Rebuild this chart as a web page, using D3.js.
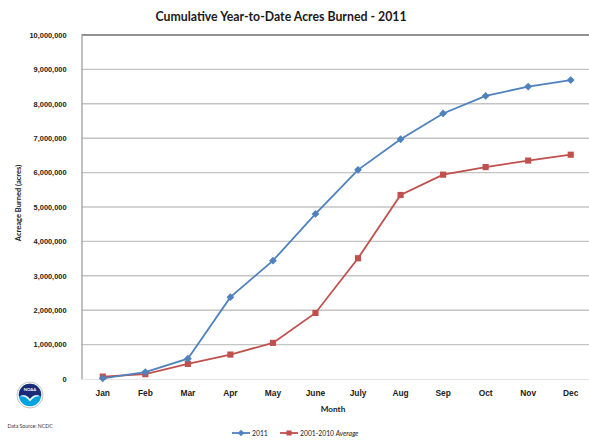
<!DOCTYPE html>
<html>
<head>
<meta charset="utf-8">
<script src="https://cdn.jsdelivr.net/npm/d3@7"></script>
<style>
  html, body { margin: 0; padding: 0; background: #fff; }
  svg { display: block; font-family: Lato, "Open Sans", sans-serif; }
</style>
</head>
<body>
<svg id="chart" width="589" height="440"></svg>
<script>
// Cumulative acres burned by month
const months = ["Jan", "Feb", "Mar", "Apr", "May", "June", "July", "Aug", "Sep", "Oct", "Nov", "Dec"];
const acres2011 = [20000, 200000, 590000, 2380000, 3440000, 4800000, 6080000, 6970000, 7720000, 8230000, 8500000, 8690000];
const acresAvg = [70000, 140000, 440000, 710000, 1050000, 1920000, 3510000, 5350000, 5940000, 6160000, 6350000, 6520000];
const yTicks = [0, 1000000, 2000000, 3000000, 4000000, 5000000, 6000000, 7000000, 8000000, 9000000, 10000000];

const svg = d3.select("#chart");
const m = { left: 81.5, right: 592, top: 35, bottom: 379 };

const x = d3.scaleBand().domain(months).range([m.left, m.right]);
const y = d3.scaleLinear().domain([0, 10000000]).range([m.bottom, m.top]);
const cx = d => x(d) + x.bandwidth() / 2;

// gridlines
svg.append("g")
  .selectAll("line")
  .data(yTicks.filter(t => t > 0))
  .join("line")
  .attr("x1", m.left).attr("x2", m.right)
  .attr("y1", d => y(d)).attr("y2", d => y(d))
  .attr("stroke", d => d === 10000000 ? "#6e6e6e" : "#c4c4c4")
  .attr("stroke-width", d => d === 10000000 ? 1.6 : 1.4);

// y axis
const yAxis = svg.append("g")
  .attr("transform", `translate(${m.left},0)`)
  .call(d3.axisLeft(y).tickValues(yTicks).tickSize(0).tickPadding(15)
    .tickFormat(d3.format(",")));
yAxis.select(".domain").attr("stroke", "#a6a6a6").attr("stroke-width", 1.4);
yAxis.selectAll("text")
  .attr("font-size", 7.4).attr("font-weight", 700).attr("fill", "#222");

// x axis
const xAxis = svg.append("g")
  .attr("transform", `translate(0,${m.bottom})`)
  .call(d3.axisBottom(x).tickSize(0).tickPadding(11));
xAxis.select(".domain").attr("stroke", "#e4e4e4").attr("stroke-width", 1);
xAxis.selectAll("text")
  .attr("font-size", 8.4).attr("font-weight", 700).attr("fill", "#222");

// titles
svg.append("text")
  .attr("x", 281).attr("y", 21)
  .attr("text-anchor", "middle")
  .attr("font-size", 12.3).attr("font-weight", 700).attr("fill", "#1a1a1a")
  .text("Cumulative Year-to-Date Acres Burned - 2011");

svg.append("text")
  .attr("transform", "translate(21,203) rotate(-90)")
  .attr("text-anchor", "middle")
  .attr("font-size", 7.5).attr("font-weight", 700).attr("fill", "#222")
  .text("Acreage Burned (acres)");

svg.append("text")
  .attr("x", 333).attr("y", 412)
  .attr("text-anchor", "middle")
  .attr("font-size", 8.2).attr("font-weight", 700).attr("fill", "#222")
  .text("Month");

// series
const series = [
  { name: "2011", values: acres2011, color: "#4f81bd", marker: "diamond" },
  { name: "2001-2010 Average", values: acresAvg, color: "#c0504d", marker: "square" }
];

const line = d3.line().x((d, i) => cx(months[i])).y(d => y(d));

// diamond = square turned 45 degrees, square = plain square
const markerPath = (kind, size) => d3.symbol(d3.symbolSquare, kind === "diamond" ? size * 0.8 : size)();
const markerRot = kind => kind === "diamond" ? " rotate(45)" : "";

series.slice().reverse().forEach(s => {
  svg.append("path")
    .attr("d", line(s.values))
    .attr("fill", "none")
    .attr("stroke", s.color)
    .attr("stroke-width", 1.8);
  svg.append("g")
    .selectAll("path")
    .data(s.values)
    .join("path")
    .attr("d", markerPath(s.marker, 38))
    .attr("transform", (d, i) => `translate(${cx(months[i])},${y(d)})${markerRot(s.marker)}`)
    .attr("fill", s.color);
});

// legend
const legend = svg.append("g").attr("transform", "translate(0,433)");
const legendItems = [
  { x: 232, s: series[0] },
  { x: 280, s: series[1] }
];
legendItems.forEach(it => {
  legend.append("line")
    .attr("x1", it.x).attr("x2", it.x + 18)
    .attr("stroke", it.s.color).attr("stroke-width", 1.8);
  legend.append("path")
    .attr("d", markerPath(it.s.marker, 26))
    .attr("transform", `translate(${it.x + 9},0)${markerRot(it.s.marker)}`)
    .attr("fill", it.s.color);
});
legend.append("text")
  .attr("x", 252).attr("y", 2.5)
  .attr("font-size", 6.8).attr("fill", "#222")
  .text("2011");
const avgText = legend.append("text")
  .attr("x", 300).attr("y", 2.5)
  .attr("font-size", 6.8).attr("fill", "#222");
avgText.append("tspan").text("2001-2010 ");
avgText.append("tspan").attr("font-style", "italic").text("Average");

// NOAA emblem
const logo = svg.append("g").attr("transform", "translate(30,395)");
logo.append("circle").attr("r", 13).attr("fill", "#fff").attr("stroke", "#9a9a9a").attr("stroke-width", 0.6);
logo.append("circle").attr("r", 11.2).attr("fill", "#00a3e0");
logo.append("path")
  .attr("d", "M-11.2,0 A11.2,11.2 0 0 1 11.2,0 L11,1.5 C6,-1 3,0 0,4 C-3,0 -6,-1 -11,1.5 Z")
  .attr("fill", "#1c2a78");
logo.append("path")
  .attr("d", "M-11,1.5 C-6,-1 -3,0 0,4 C3,0 6,-1 11,1.5 C6,0.8 3,2.5 0,6.5 C-3,2.5 -6,0.8 -11,1.5 Z")
  .attr("fill", "#fff");
logo.append("text")
  .attr("y", -4).attr("text-anchor", "middle")
  .attr("font-size", 4.2).attr("font-weight", 700).attr("fill", "#fff")
  .text("NOAA");

svg.append("text")
  .attr("x", 30).attr("y", 428)
  .attr("text-anchor", "middle")
  .attr("font-size", 5.2).attr("fill", "#333")
  .text("Data Source: NCDC");
</script>
</body>
</html>
